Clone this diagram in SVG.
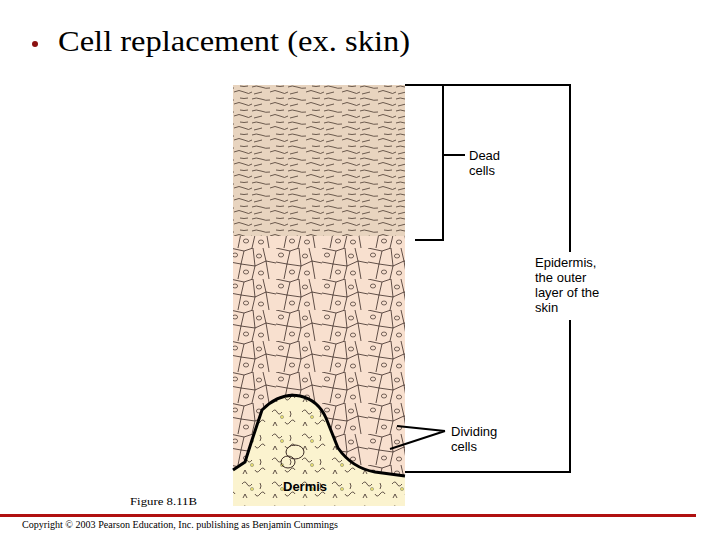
<svg xmlns="http://www.w3.org/2000/svg" width="720" height="540" viewBox="0 0 720 540">
<style>
.lbl{font-family:"Liberation Sans",Arial,sans-serif;font-size:13px;fill:#000}
.br{fill:none;stroke:#000;stroke-width:2}
.ser{font-family:"Liberation Serif","Times New Roman",serif;fill:#000}
</style>
<defs>
<pattern id="dead" width="36" height="12" patternUnits="userSpaceOnUse">
<rect width="36" height="12" fill="#e8d4bf"/>
<path d="M0 3 q4 -2 9 0 t9 1 M18 8 q5 -3 10 0 t8 0 M2 10 q4 -1 8 -2 M24 2 q4 1 8 0" fill="none" stroke="#4a3a30" stroke-width="0.8"/>
</pattern>
<pattern id="cells" width="46" height="31" patternUnits="userSpaceOnUse">
<rect width="46" height="31" fill="#f8e0cf"/>
<path d="M0 0 L14 3 L23 0 M14 3 L11 16 L0 14 M11 16 L25 18 L23 0 M25 18 L36 13 L46 15 M36 13 L33 0 M25 18 L22 31 M11 16 L8 31 M36 13 L39 31" fill="none" stroke="#3a2a24" stroke-width="0.8"/>
<ellipse cx="5" cy="7" rx="2.6" ry="2" fill="none" stroke="#3a2a24" stroke-width="0.7"/>
<ellipse cx="29" cy="8" rx="2.6" ry="2" fill="none" stroke="#3a2a24" stroke-width="0.7"/>
<ellipse cx="16" cy="24" rx="2.6" ry="2" fill="none" stroke="#3a2a24" stroke-width="0.7"/>
<ellipse cx="31" cy="25" rx="2.6" ry="2" fill="none" stroke="#3a2a24" stroke-width="0.7"/>
</pattern>
<pattern id="derm" width="30" height="24" patternUnits="userSpaceOnUse">
<rect width="30" height="24" fill="#fbf3cf"/>
<path d="M2 4 q3 -4 5 0 t5 0 M15 14 q2 4 5 0 t5 0 M3 18 l2 -4 l2 4 M20 3 q2 3 0 6" fill="none" stroke="#3a2a24" stroke-width="0.8"/>
<circle cx="12" cy="9" r="1.6" fill="#e8e070" stroke="#555" stroke-width="0.4"/>
</pattern>
</defs>
<rect width="720" height="540" fill="#fff"/>
<g id="title">
<circle cx="35" cy="44" r="3" fill="#8b1010"/>
<text class="ser" x="58" y="51" font-size="30" textLength="352" lengthAdjust="spacingAndGlyphs">Cell replacement (ex. skin)</text>
</g>
<g id="skin">
<rect x="233" y="85" width="172" height="155" fill="url(#dead)"/>
<rect x="233" y="236" width="172" height="240" fill="url(#cells)"/>
<path d="M233 470 L245 462 L252 440 L262 410 Q280 392 300 396 Q318 400 326 418 L338 448 Q352 468 375 472 L405 476 L405 506 L233 506 Z" fill="url(#derm)"/>
<path d="M233 470 L245 462 L252 440 L262 410 Q280 392 300 396 Q318 400 326 418 L338 448 Q352 468 375 472 L405 476" fill="none" stroke="#000" stroke-width="3"/>
<ellipse cx="295" cy="452" rx="9" ry="7" fill="none" stroke="#3a2a24"/>
<ellipse cx="288" cy="462" rx="7" ry="6" fill="none" stroke="#3a2a24"/>
<text x="283" y="491" font-family="Liberation Sans,Arial,sans-serif" font-weight="bold" font-size="13">Dermis</text>
</g>
<g id="connectors">
<path class="br" d="M415 85 H443 V240 H415 M443 155 H465"/>
<path class="br" d="M405 85 H570 V252 M570 320 V472 H405"/>
<path d="M445 431 L397 426 M445 431 L390 449" fill="none" stroke="#000" stroke-width="2"/>
</g>
<g id="dead-label"><text class="lbl" x="469" y="160">Dead</text><text class="lbl" x="469" y="175">cells</text></g>
<g id="epi-label"><text class="lbl" x="535" y="267">Epidermis,</text><text class="lbl" x="535" y="282">the outer</text><text class="lbl" x="535" y="297">layer of the</text><text class="lbl" x="535" y="312">skin</text></g>
<g id="div-label"><text class="lbl" x="451" y="436">Dividing</text><text class="lbl" x="451" y="451">cells</text></g>
<text class="ser" x="130" y="505" font-size="11" textLength="67" lengthAdjust="spacingAndGlyphs">Figure 8.11B</text>
<rect x="0" y="514" width="696" height="3" fill="#b01010"/>
<text class="ser" x="22" y="528" font-size="9.5" textLength="316" lengthAdjust="spacingAndGlyphs">Copyright © 2003 Pearson Education, Inc. publishing as Benjamin Cummings</text>
</svg>
